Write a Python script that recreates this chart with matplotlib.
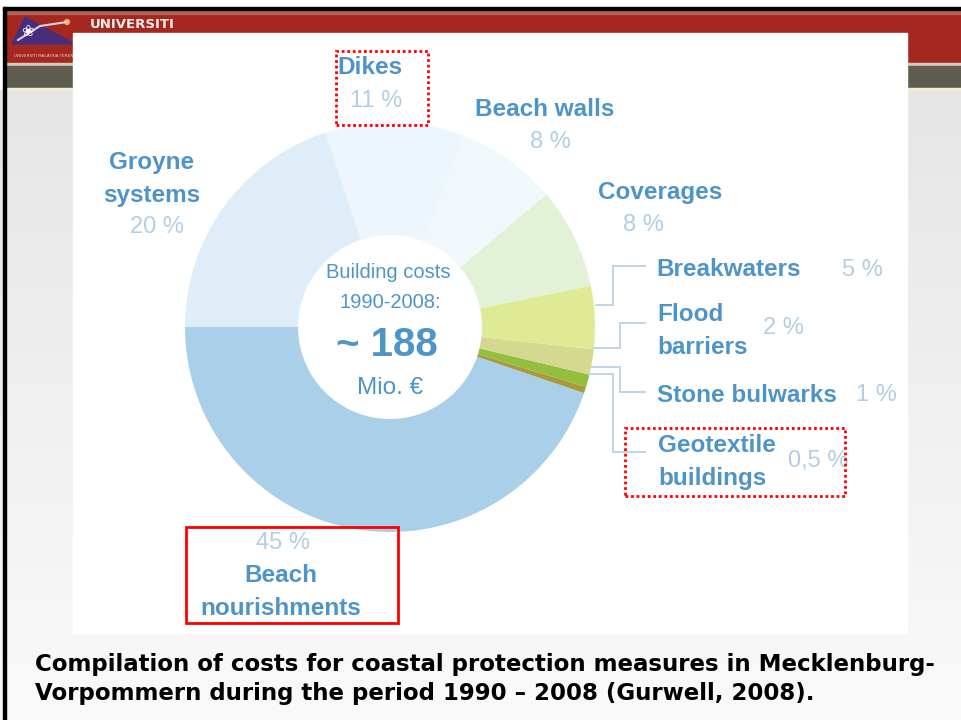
import matplotlib
matplotlib.use("Agg")
import matplotlib.pyplot as plt
import numpy as np
from matplotlib.patches import Rectangle, Polygon, Circle

# ---- data ----
categories = ["Beach\nnourishments", "Geotextile\nbuildings", "Stone bulwarks",
              "Flood\nbarriers", "Breakwaters", "Coverages", "Beach walls",
              "Dikes", "Groyne\nsystems"]
shares = [45, 0.5, 1, 2, 5, 8, 8, 11, 20]
pct_labels = ["45 %", "0,5 %", "1 %", "2 %", "5 %", "8 %", "8 %", "11 %", "20 %"]
colors = ["#a9cfe9", "#a99a3c", "#93bf3f", "#d3d98e", "#dfeb94", "#e3f1d6",
          "#f0f8fb", "#edf6fc", "#dfedf8"]
center_lines = ["Building costs", "1990-2008:", "~ 188", "Mio. €"]
caption = ("Compilation of costs for coastal protection measures in Mecklenburg-\n"
           "Vorpommern during the period 1990 \u2013 2008 (Gurwell, 2008).")

W, H = 961, 720
fig = plt.figure(figsize=(W / 100, H / 100), dpi=100)
ax = fig.add_axes([0, 0, 1, 1])
ax.set_xlim(0, W)
ax.set_ylim(0, H)
ax.axis("off")

def Y(py):
    return H - py

# ---- slide background ----
grad = np.linspace(0.90, 0.98, 200).reshape(-1, 1)
ax.imshow(np.dstack([grad, grad, grad]), extent=(0, W, Y(720), Y(90)),
          aspect="auto", zorder=0)
ax.add_patch(Rectangle((0, Y(7)), W, 7, color="white", zorder=1))
ax.add_patch(Rectangle((3, Y(10)), W, 3, color="black", zorder=2))
ax.add_patch(Rectangle((3, 0), 3, Y(7), color="black", zorder=2))
ax.add_patch(Rectangle((6, Y(63)), W, 53, color="#a52820", zorder=1))
ax.add_patch(Rectangle((6, Y(14)), W, 4, color="#b9605a", zorder=1))
ax.add_patch(Rectangle((6, Y(66)), W, 3, color="#d9c9bd", zorder=1))
ax.add_patch(Rectangle((6, Y(88)), W, 22, color="#5f5e4e", zorder=1))
ax.add_patch(Rectangle((6, Y(90)), W, 2, color="#eeeedd", zorder=1))
# logo
ax.add_patch(Polygon([(12, Y(44)), (25, Y(17)), (75, Y(44))], closed=True,
                     color="#4a2d7a", zorder=2))
ax.add_patch(Circle((67, Y(22)), 2.5, color="#f3a050", zorder=3))
ax.plot([18, 40, 67], [Y(40), Y(26), Y(22)], color="#d8d0e0", lw=1.5, zorder=3)
ax.text(28, Y(32), "\u2740", color="white", fontsize=11, ha="center", va="center",
        zorder=3, family="DejaVu Sans")
ax.text(90, Y(24), "UNIVERSITI", color="#eeeeee", fontsize=9.5, fontweight="bold",
        ha="left", va="center", zorder=3, family="DejaVu Sans")
ax.text(14, Y(56), "UNIVERSITI MALAYSIA TERENGGANU", color="#e8d0d0", fontsize=3,
        ha="left", va="center", zorder=3)

# white picture panel
ax.add_patch(Rectangle((73, Y(633)), 907 - 73, 600, color="white", zorder=4))

# ---- donut ----
cx, cy, R, r_in = 390, Y(327), 205, 92
wedges, _ = ax.pie(shares, colors=colors, startangle=180, counterclock=True,
                   center=(cx, cy), radius=R, frame=True,
                   wedgeprops=dict(width=R - r_in, edgecolor="none"))
for w in wedges:
    w.set_zorder(5)
ax.set_xlim(0, W)
ax.set_ylim(0, H)
ax.set_aspect("auto")
ax.axis("off")

# center text
tc = "#4f94c6"
ff = ["Liberation Sans", "DejaVu Sans"]
ax.text(388, Y(272), center_lines[0], color=tc, fontsize=14.5, ha="center",
        va="center", zorder=6, family=ff)
ax.text(390, Y(303), center_lines[1], color=tc, fontsize=14.5, ha="center",
        va="center", zorder=6, family=ff)
ax.text(387, Y(345), center_lines[2], color=tc, fontsize=29, fontweight="bold",
        ha="center", va="center", zorder=6, family=ff)
ax.text(390, Y(388), center_lines[3], color=tc, fontsize=17.5, ha="center",
        va="center", zorder=6, family=ff)

# ---- labels ----
nc = "#4f94c8"   # name colour
pc = "#b3cee4"   # percent colour
fs_n, fs_p = 17.5, 17
dy = 2

def name(x, y, s, ha="center"):
    ax.text(x, Y(y + dy), s, color=nc, fontsize=fs_n, fontweight="bold", ha=ha,
            va="center", zorder=7, family=ff, linespacing=1.57)

def pct(x, y, s, ha="center"):
    ax.text(x, Y(y + dy), s, color=pc, fontsize=fs_p, ha=ha, va="center",
            zorder=7, family=ff)

# Dikes
name(370, 66, categories[7]); pct(376, 99, pct_labels[7])
# Beach walls
name(545, 107, categories[6]); pct(550, 140, pct_labels[6])
# Groyne systems
name(152, 177, categories[8]); pct(157, 225, pct_labels[8])
# Coverages
name(660, 190, categories[5]); pct(643, 223, pct_labels[5])
# Breakwaters
name(656, 268, categories[4], ha="left"); pct(862, 268, pct_labels[4])
# Flood barriers
name(657, 329, categories[3], ha="left"); pct(783, 326, pct_labels[3])
# Stone bulwarks
name(657, 393, categories[2], ha="left"); pct(876, 393, pct_labels[2])
# Geotextile buildings
name(658, 460, categories[1], ha="left"); pct(818, 459, pct_labels[1])
# Beach nourishments
pct(283, 541, pct_labels[0]); name(281, 590, categories[0])

# connector lines
lc = "#bcd1e2"
conn = [
    [(596, 305), (613, 305), (613, 266), (645, 266)],
    [(594, 348), (620, 348), (620, 323), (645, 323)],
    [(592, 367), (620, 367), (620, 392), (645, 392)],
    [(590, 374), (613, 374), (613, 452), (645, 452)],
]
for pts in conn:
    xs, ys = zip(*pts)
    ax.plot(xs, [Y(v) for v in ys], color=lc, lw=1.3, zorder=6,
            solid_joinstyle="miter")

# red highlight boxes
ax.add_patch(Rectangle((336, Y(125)), 92, 74, fill=False, ec="red", lw=2,
                       ls=(0, (1, 1)), zorder=8))
ax.add_patch(Rectangle((625, Y(496)), 220, 68, fill=False, ec="red", lw=2,
                       ls=(0, (1, 1)), zorder=8))
ax.add_patch(Rectangle((186, Y(623)), 212, 96, fill=False, ec="red", lw=2,
                       zorder=8))

# caption
ax.text(35, Y(679), caption, color="black", fontsize=16.5, fontweight="bold",
        ha="left", va="center", zorder=8, family="DejaVu Sans", linespacing=1.38)

fig.savefig("out.png", dpi=100)
